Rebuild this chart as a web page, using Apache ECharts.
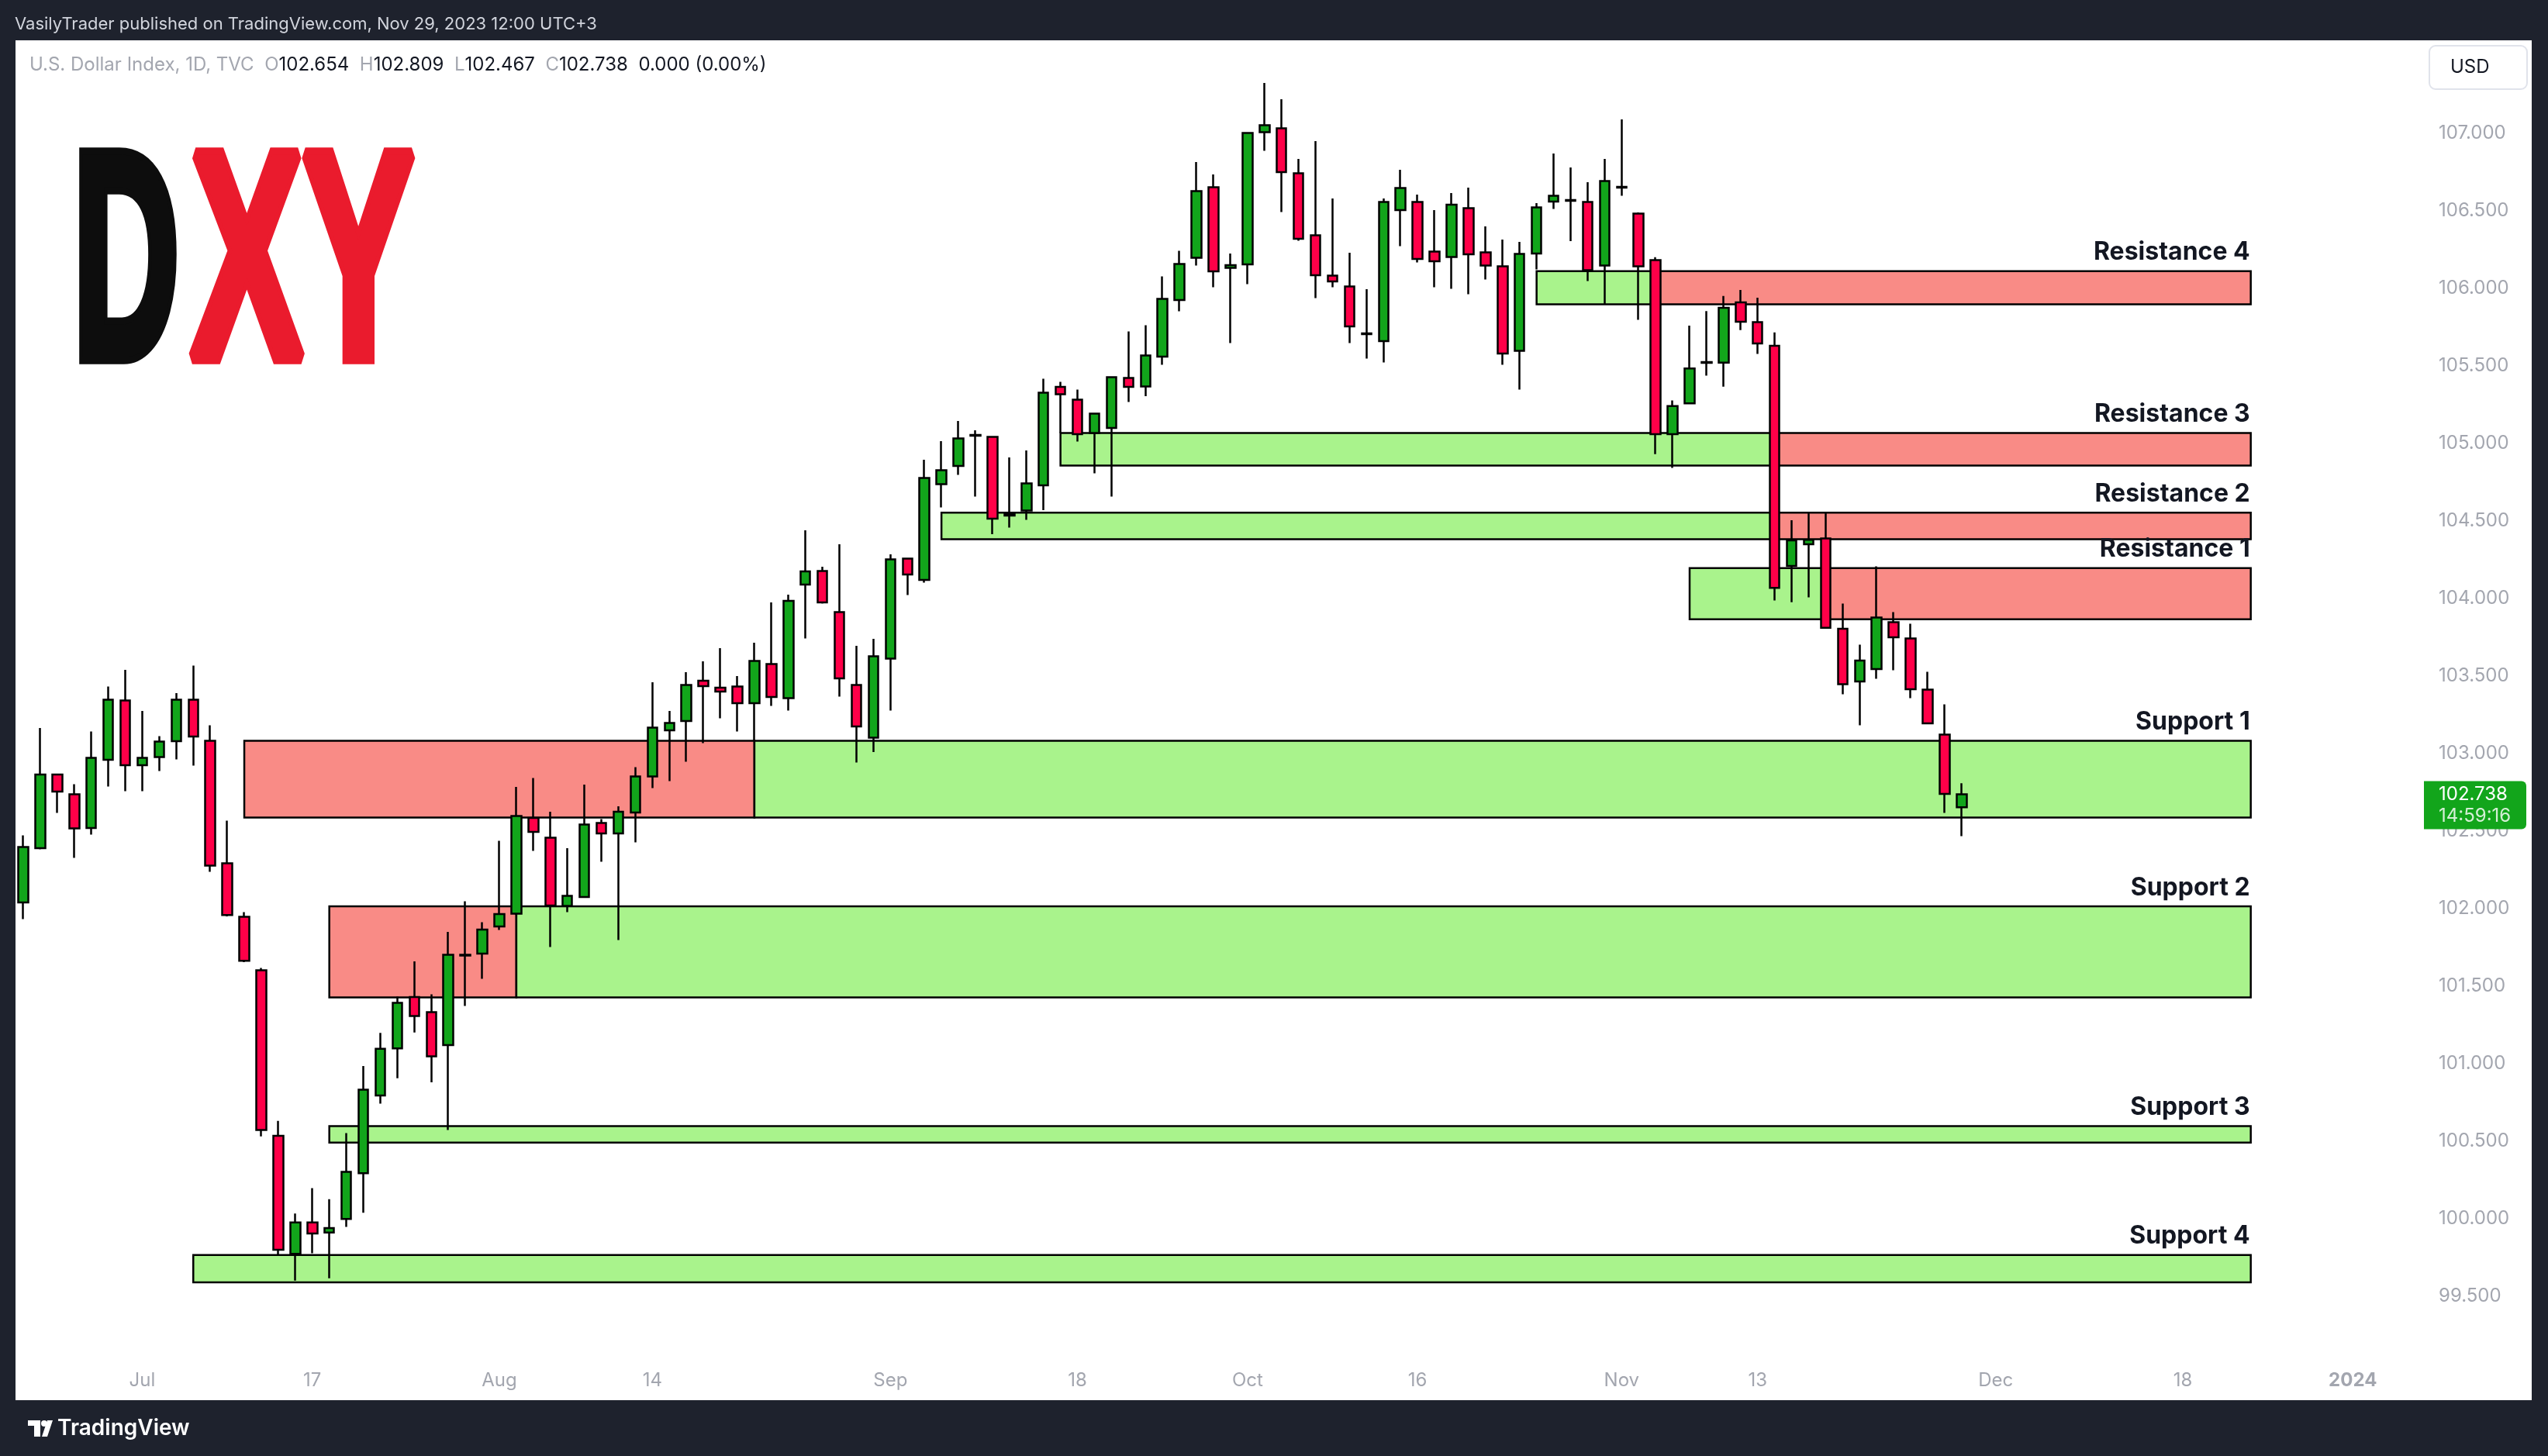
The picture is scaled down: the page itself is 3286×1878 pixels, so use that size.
<!DOCTYPE html>
<html>
<head>
<meta charset="utf-8">
<script src="https://cdn.jsdelivr.net/npm/echarts/dist/echarts.min.js"></script>
<style>
html,body{margin:0;padding:0;background:#1e222d;overflow:hidden;}
#c{width:3286px;height:1878px;}
</style>
</head>
<body>
<div id="c"></div>
<script>
// ---------------- DATA ----------------
// Daily candles, U.S. Dollar Index (TVC), 22 Jun 2023 .. 29 Nov 2023 (weekdays)
const openP = [102.040,102.390,102.865,102.737,102.520,102.960,103.342,102.925,102.977,103.080,103.347,103.082,102.292,101.947,101.603,100.535,99.774,99.976,99.911,99.999,100.294,100.795,101.099,101.430,101.332,101.120,101.703,101.710,101.885,101.968,102.585,102.457,102.018,102.075,102.552,102.485,102.620,102.853,103.150,103.210,103.470,103.425,103.432,103.325,103.577,103.357,104.090,104.177,103.912,103.442,103.103,103.613,104.258,104.120,104.738,104.855,105.055,105.042,104.535,104.568,104.730,105.365,105.282,105.068,105.100,105.422,105.368,105.560,105.925,106.198,106.652,106.132,106.155,107.007,107.032,106.742,106.342,106.082,106.012,105.710,105.660,106.505,106.557,106.237,106.202,106.517,106.232,106.142,105.598,106.225,106.560,106.570,106.557,106.147,106.655,106.482,106.182,105.060,105.259,105.520,105.521,105.910,105.782,105.630,104.210,104.350,104.387,103.805,103.465,103.545,103.847,103.742,103.412,103.122,102.654];
const highP = [102.473,103.165,102.865,102.803,103.143,103.433,103.540,103.275,103.113,103.390,103.568,103.183,102.568,101.978,101.618,100.631,100.034,100.198,100.126,100.552,100.985,101.199,101.432,101.660,101.448,101.850,102.048,101.913,102.438,102.785,102.843,102.625,102.390,102.800,102.577,102.660,102.913,103.460,103.275,103.525,103.595,103.680,103.500,103.715,103.975,104.025,104.440,104.205,104.350,103.695,103.740,104.285,104.263,104.895,105.015,105.145,105.085,105.042,104.910,104.955,105.418,105.398,105.348,105.195,105.430,105.723,105.763,106.078,106.243,106.815,106.735,106.225,107.007,107.325,107.220,106.835,106.950,106.580,106.230,105.995,106.580,106.765,106.605,106.505,106.615,106.650,106.400,106.315,106.300,106.550,106.870,106.780,106.685,106.835,107.090,106.490,106.201,105.278,105.760,105.854,105.951,105.990,105.940,105.716,104.505,104.553,104.553,103.968,103.703,104.208,103.913,103.838,103.528,103.318,102.809];
const lowP = [101.932,102.382,102.617,102.327,102.477,102.787,102.757,102.757,102.887,102.962,102.922,102.238,101.950,101.655,100.531,99.766,99.601,99.777,99.616,99.948,100.039,100.742,100.906,101.201,100.880,100.572,101.372,101.547,101.863,101.960,102.372,101.752,101.977,102.070,102.302,101.797,102.427,102.777,102.822,102.947,103.067,103.227,103.142,103.082,103.307,103.277,103.742,103.968,103.367,102.943,103.010,103.277,104.023,104.102,104.587,104.797,104.657,104.415,104.457,104.507,104.570,105.067,105.013,104.807,104.657,105.267,105.305,105.507,105.852,106.147,106.007,105.647,106.027,106.887,106.492,106.307,105.937,106.007,105.647,105.547,105.522,106.272,106.168,106.007,105.997,105.962,106.057,105.507,105.347,106.122,106.512,106.305,106.047,105.897,106.597,105.797,104.931,104.843,105.255,105.437,105.366,105.731,105.577,103.987,103.976,104.008,103.805,103.382,103.182,103.482,103.537,103.357,103.190,102.617,102.467];
const closeP = [102.397,102.865,102.755,102.517,102.972,103.347,102.925,102.972,103.077,103.347,103.110,102.277,101.959,101.664,100.573,99.800,99.976,99.905,99.940,100.302,100.832,101.096,101.392,101.308,101.048,101.702,101.698,101.865,101.965,102.597,102.495,102.020,102.082,102.542,102.485,102.625,102.852,103.167,103.197,103.442,103.435,103.400,103.325,103.597,103.365,103.985,104.175,103.975,103.485,103.175,103.628,104.253,104.155,104.777,104.827,105.032,105.050,104.515,104.545,104.742,105.327,105.318,105.060,105.192,105.427,105.365,105.567,105.932,106.157,106.627,106.110,106.150,107.002,107.052,106.750,106.320,106.085,106.045,105.755,105.705,106.557,106.647,106.190,106.175,106.540,106.220,106.147,105.580,106.222,106.522,106.597,106.565,106.118,106.692,106.650,106.142,105.060,105.241,105.484,105.525,105.875,105.785,105.645,104.069,104.375,104.379,103.811,103.447,103.600,103.877,103.750,103.415,103.195,102.740,102.738];

// time-scale tick labels (bar index -> text)
const tickIndex = [7, 17, 28, 37, 51, 62, 72, 82, 94, 102, 116, 127, 137];
const tickText  = ['Jul','17','Aug','14','Sep','18','Oct','16','Nov','13','Dec','18','2024'];

// price scale
const priceMin = 99.0, priceMax = 107.5, priceStep = 0.5;

// support / resistance zones (bar indices and prices)
const zoneNames  = ['Resistance 4','Resistance 3','Resistance 2','Resistance 1','Support 1','Support 2','Support 3','Support 4'];
const zoneKind   = ['res','res','res','res','sup','sup','sup','sup'];
const zoneTop    = [106.111, 105.067, 104.554, 104.196, 103.082, 102.015, 100.597, 99.766];
const zoneBottom = [105.897, 104.857, 104.382, 103.866, 102.587, 101.427, 100.491, 99.590];
const zoneStart  = [89, 61, 54, 98, 13, 18, 18, 10];
const zoneSplit  = [96, 103, 103, 106, 43, 29, null, null];
const zoneEnd    = [131, 131, 131, 131, 131, 131, 131, 131];

// legend values
const legendVals = {O:'102.654', H:'102.809', L:'102.467', C:'102.738', chg:'0.000 (0.00%)'};

// ---------------- BUILD ----------------
const TOTAL_BARS = 141;
const dates = [];
(function(){
  const d = new Date(Date.UTC(2023,5,22));
  while (dates.length < TOTAL_BARS) {
    const wd = d.getUTCDay();
    if (wd !== 0 && wd !== 6) dates.push(d.toISOString().slice(0,10));
    d.setUTCDate(d.getUTCDate()+1);
  }
})();
const tickMap = {};
tickIndex.forEach((ix,k)=>{ tickMap[ix] = tickText[k]; });

const candleData = openP.map((o,i)=>[o, closeP[i], lowP[i], highP[i]]);

const GREEN_ZONE = '#a9f38c', RED_ZONE = '#f98b86';
const zoneRects = [];
zoneNames.forEach((n,k)=>{
  const s = zoneStart[k], sp = zoneSplit[k], e = zoneEnd[k];
  if (sp === null) {
    zoneRects.push([s, e, zoneTop[k], zoneBottom[k], 0]);
  } else if (zoneKind[k] === 'res') {
    zoneRects.push([s, sp, zoneTop[k], zoneBottom[k], 0]);
    zoneRects.push([sp, e, zoneTop[k], zoneBottom[k], 1]);
  } else {
    zoneRects.push([s, sp, zoneTop[k], zoneBottom[k], 1]);
    zoneRects.push([sp, e, zoneTop[k], zoneBottom[k], 0]);
  }
});
const zoneLabelData = zoneNames.map((n,k)=>[zoneEnd[k], zoneTop[k], k]);

const FONT = 'Inter, Roboto, "Noto Sans", sans-serif';
const AXIS_COLOR = '#a3a6af';

const chart = echarts.init(document.getElementById('c'), null, {renderer:'canvas', width:3286, height:1878});

const option = {
  animation: false,
  backgroundColor: 'transparent',
  grid: {left: 19, right: 175, top: 72, bottom: 106, containLabel: false, outerBoundsMode: 'none'},
  xAxis: {
    type: 'category', data: dates, boundaryGap: true,
    axisLine: {show:false}, axisTick: {show:false}, splitLine: {show:false},
    axisLabel: {
      interval: 0, margin: 9, verticalAlign: 'middle',
      color: AXIS_COLOR, fontSize: 24, fontFamily: FONT,
      formatter: (v, idx) => {
        const t = tickMap[idx];
        if (!t) return '';
        return t === '2024' ? '{b|2024}' : t;
      },
      rich: {b: {fontWeight: 'bold', fontSize: 24, fontFamily: FONT, color: AXIS_COLOR}}
    }
  },
  yAxis: {
    type: 'value', position: 'right', scale: true,
    min: priceMin, max: priceMax, interval: priceStep,
    axisLine: {show:false}, axisTick: {show:false}, splitLine: {show:false},
    axisLabel: {
      align: 'left', margin: 34, color: AXIS_COLOR, fontSize: 24, fontFamily: FONT,
      showMinLabel: false, showMaxLabel: false,
      formatter: v => v.toFixed(3)
    }
  },
  series: [
    {
      type: 'custom', name: 'zones', z: 1, silent: true,
      data: zoneRects,
      encode: {x: [0,1], y: [2,3]},
      renderItem: (params, api) => {
        const p0 = api.coord([api.value(0), api.value(2)]);
        const p1 = api.coord([api.value(1), api.value(3)]);
        return {
          type: 'rect',
          shape: {x: p0[0], y: p0[1], width: p1[0]-p0[0], height: p1[1]-p0[1]},
          style: {fill: api.value(4) === 1 ? RED_ZONE : GREEN_ZONE, stroke: '#000', lineWidth: 2.5}
        };
      }
    },
    {
      type: 'candlestick', name: 'DXY', z: 3,
      data: candleData,
      barWidth: 13,
      itemStyle: {
        color: '#12a51b', color0: '#ff0048',
        borderColor: '#000', borderColor0: '#000', borderColorDoji: '#000',
        borderWidth: 2.5
      },
      emphasis: {disabled: true}
    },
    {
      type: 'custom', name: 'zoneLabels', z: 5, silent: true,
      data: zoneLabelData,
      encode: {x: 0, y: 1},
      renderItem: (params, api) => {
        const p = api.coord([api.value(0), api.value(1)]);
        return {
          type: 'text', x: p[0] - 1, y: p[1] - 8,
          style: {
            text: zoneNames[api.value(2)], align: 'right', verticalAlign: 'bottom',
            font: 'bold 32px ' + FONT, fill: '#131722'
          }
        };
      }
    }
  ]
};
chart.setOption(option);

const lastClose = closeP[closeP.length - 1];
const yLast = chart.convertToPixel({yAxisIndex: 0}, lastClose);

const LOGO_Y = 356;
const logoFont = 'bold 380px "Liberation Sans", Arial, sans-serif';
const logoShadow = {shadowBlur:34, shadowColor:'rgba(0,0,0,0.42)', shadowOffsetX:-12, shadowOffsetY:14};

const graphics = [
  // white chart pane
  {id:'pane', type:'rect', z:-10, shape:{x:20, y:52, width:3245, height:1754}, style:{fill:'#ffffff'}},
  // header
  {id:'hdr', type:'text', x:19, y:31, z:10, style:{text:'VasilyTrader published on TradingView.com, Nov 29, 2023 12:00 UTC+3', font:'22px ' + FONT, fill:'#d1d4dc', verticalAlign:'middle'}},
  // legend
  {id:'legend', type:'text', x:38, y:84, z:10, style:{
    text: '{g|U.S. Dollar Index, 1D, TVC  O}{b|' + legendVals.O + '}{g|  H}{b|' + legendVals.H + '}{g|  L}{b|' + legendVals.L + '}{g|  C}{b|' + legendVals.C + '}{b|  ' + legendVals.chg + '}',
    verticalAlign: 'middle',
    rich: {
      g: {fill:'#a3a6af', font:'24px ' + FONT},
      b: {fill:'#131722', font:'24px ' + FONT}
    }
  }},
  // DXY logo
  {id:'logoD', type:'text', x:94, y:LOGO_Y, scaleX:0.5, z:10, style:Object.assign({
    text:'D', font:logoFont, fill:'#0d0d0d', stroke:'#0d0d0d', lineWidth:18, verticalAlign:'middle'}, logoShadow)},
  {id:'logoX', type:'text', x:246, y:LOGO_Y, scaleX:0.57, z:10, style:Object.assign({
    text:'X', font:logoFont, fill:'#ea1b2d', stroke:'#ea1b2d', lineWidth:18, verticalAlign:'middle'}, logoShadow)},
  {id:'logoY', type:'text', x:390, y:LOGO_Y, scaleX:0.57, z:10, style:Object.assign({
    text:'Y', font:logoFont, fill:'#ea1b2d', stroke:'#ea1b2d', lineWidth:18, verticalAlign:'middle'}, logoShadow)},
  // USD button
  {id:'usdBox', type:'rect', z:10, shape:{x:3133, y:59, width:126, height:56, r:8}, style:{fill:'#ffffff', stroke:'#e0e3eb', lineWidth:2}},
  {id:'usdTxt', type:'text', x:3160, y:87, z:11, style:{text:'USD', font:'24px ' + FONT, fill:'#131722', verticalAlign:'middle'}},
  // last price tag
  {id:'tagBox', type:'rect', z:20, shape:{x:3126, y:yLast - 17, width:132, height:62, r:[0,6,6,0]}, style:{fill:'#12a51b'}},
  {id:'tagPrice', type:'text', x:3145, y:yLast, z:21, style:{text: lastClose.toFixed(3), font:'24px ' + FONT, fill:'#ffffff', verticalAlign:'middle'}},
  {id:'tagTime', type:'text', x:3145, y:yLast + 28, z:21, style:{text:'14:59:16', font:'24px ' + FONT, fill:'rgba(255,255,255,0.82)', verticalAlign:'middle'}},
  // footer TradingView logo
  {id:'tv1', type:'rect', z:10, shape:{x:36, y:1832, width:16, height:7}, style:{fill:'#ffffff'}},
  {id:'tv2', type:'rect', z:10, shape:{x:44, y:1832, width:8, height:21}, style:{fill:'#ffffff'}},
  {id:'tv3', type:'circle', z:10, shape:{cx:57, cy:1836, r:4}, style:{fill:'#ffffff'}},
  {id:'tv4', type:'polygon', z:10, shape:{points:[[54,1853],[61,1853],[68,1832],[61,1832]]}, style:{fill:'#ffffff'}},
  {id:'tvTxt', type:'text', x:74, y:1843, z:10, style:{text:'TradingView', font:'600 28px ' + FONT, fill:'#ffffff', verticalAlign:'middle'}}
];
chart.setOption({graphic: {elements: graphics}});
</script>
</body>
</html>
